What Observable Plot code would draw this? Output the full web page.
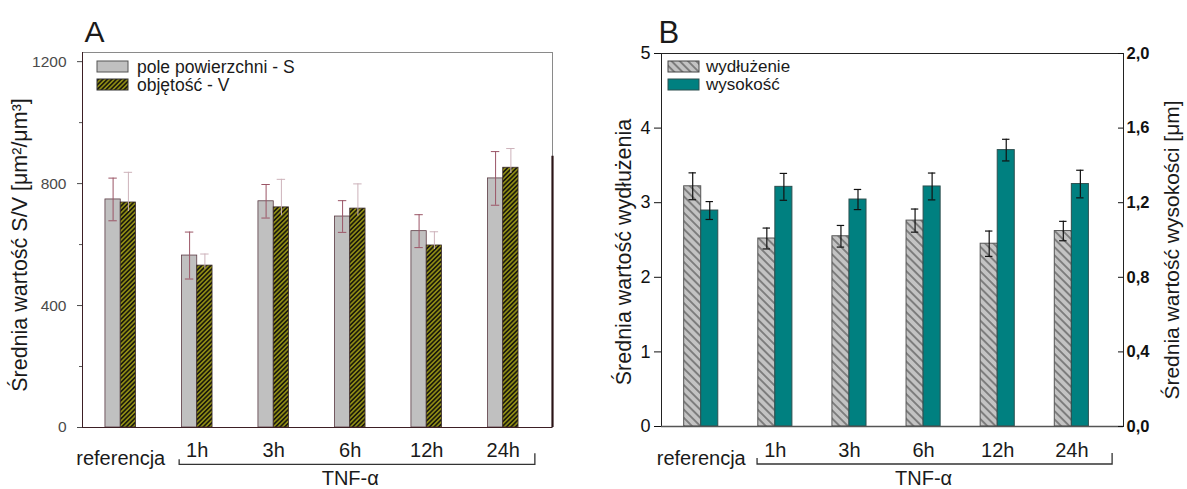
<!DOCTYPE html>
<html>
<head>
<meta charset="utf-8">
<script src="https://cdn.jsdelivr.net/npm/d3@7"></script>
<script src="https://cdn.jsdelivr.net/npm/@observablehq/plot@0.6"></script>
<style>
  body { margin: 0; background: #fff; }
  #wrap { position: relative; width: 1187px; height: 489px; overflow: hidden; background: #fff; }
  #wrap > svg { position: absolute; top: 0; }
</style>
</head>
<body>
<svg width="0" height="0" style="position:absolute">
  <defs>
    <pattern id="hatchV" patternUnits="userSpaceOnUse" width="3.2" height="3.2" patternTransform="rotate(45)">
      <rect width="3.2" height="3.2" fill="#8e8b14"/>
      <rect width="1.6" height="3.2" fill="#1c1b0c"/>
    </pattern>
    <pattern id="hatchE" patternUnits="userSpaceOnUse" width="5.8" height="5.8" patternTransform="rotate(-45)">
      <rect width="5.8" height="5.8" fill="#c3c3c3"/>
      <line x1="2.9" y1="0" x2="2.9" y2="5.8" stroke="#2a2a2a" stroke-width="0.9"/>
    </pattern>
  </defs>
</svg>
<div id="wrap"></div>
<script>
// ---------- data ----------
const categories = ["referencja", "1h", "3h", "6h", "12h", "24h"];
const groupLabel = "TNF-α";
// Panel A: S/V ratio [µm²/µm³]
const surfaceS    = [748, 564, 742, 692, 644, 817];
const surfaceSErr = [70, 77, 55, 52, 54, 88];
const volumeV     = [738, 531, 722, 718, 597, 852];
const volumeVErr  = [99, 38, 92, 81, 45, 63];
// Panel B: elongation (left axis) and height [µm] (right axis)
const elongation    = [3.22, 2.52, 2.55, 2.76, 2.45, 2.62];
const elongationErr = [0.18, 0.14, 0.145, 0.155, 0.17, 0.13];
const heightUm      = [1.158, 1.285, 1.217, 1.287, 1.482, 1.30];
const heightUmErr   = [0.048, 0.072, 0.054, 0.072, 0.058, 0.074];
// tick labels
const ticksA      = [0, 400, 800, 1200];
const minorTicksA = [200, 600, 1000];
const ticksBLeft  = [0, 1, 2, 3, 4, 5];
const ticksBRight = [0, 0.4, 0.8, 1.2, 1.6, 2.0];
// texts
const legendA = ["pole powierzchni - S", "objętość - V"];
const legendB = ["wydłużenie", "wysokość"];
const yLabelA = "Średnia wartość S/V [μm²/μm³]";
const yLabelB = "Średnia wartość wydłużenia";
const yLabelB2 = "Średnia wartość wysokości [μm]";

// ---------- setup ----------
const font = "Arial, 'Liberation Sans', Helvetica, sans-serif";
const wrap = document.getElementById("wrap");
const tnfIdx = categories.map((c, i) => i).slice(1);
const tnfCenter = (tnfIdx[0] + tnfIdx[tnfIdx.length - 1]) / 2;
const rightScale = 5 / 2; // left units per right unit
const ink = "#1a1a1a";

function addLegend(svg, items, x, y0, step, textDx, fontSize) {
  const g = d3.select(svg).append("g").attr("font-family", font).attr("font-size", fontSize).attr("text-anchor", "start");
  items.forEach((it, k) => {
    const y = y0 + k * step;
    g.append("rect").attr("x", x).attr("y", y).attr("width", 31).attr("height", 11)
      .attr("fill", it.fill).attr("stroke", it.stroke).attr("stroke-width", 1);
    g.append("text").attr("x", x + textDx).attr("y", y + 5.5).attr("dy", "0.35em")
      .attr("fill", ink).attr("text-anchor", "start").text(it.label);
  });
}
function addBracket(plot, x1v, x2v, yOff, hL, hR) {
  const sx = plot.scale("x").apply, sy = plot.scale("y").apply;
  const xa = sx(x1v), xb = sx(x2v), y = sy(0) + yOff;
  d3.select(plot).append("path")
    .attr("d", `M${xa},${y - hL}V${y}H${xb}V${y - hR}`)
    .attr("fill", "none").attr("stroke", "#333").attr("stroke-width", 1.3);
}

// ---------- Panel A ----------
const rowsA = categories.map((c, i) => ({i, c, S: surfaceS[i], Se: surfaceSErr[i], V: volumeV[i], Ve: volumeVErr[i]}));
const wA = 0.2, capA = 0.055;
const xDomA = [-0.5, 5.644];
const errS = "#9b5566", errV = "#cdb2ba";
const plotA = Plot.plot({
  width: 590, height: 489,
  marginLeft: 82, marginRight: 38, marginTop: 52, marginBottom: 62,
  style: {fontFamily: font, background: "transparent", overflow: "visible", color: ink},
  x: {domain: xDomA, axis: null},
  y: {domain: [0, 1230], axis: null},
  marks: [
    Plot.frame({stroke: "#8a8a8a"}),
    Plot.rect(rowsA, {x1: d => d.i - wA, x2: d => d.i, y1: 0, y2: "S", fill: "#c0c0c0", stroke: "#5b3b44", strokeWidth: 0.8}),
    Plot.ruleX(rowsA, {x: d => d.i - wA / 2, y1: d => d.S - d.Se, y2: d => d.S + d.Se, stroke: errS}),
    Plot.ruleY(rowsA, {y: d => d.S - d.Se, x1: d => d.i - wA / 2 - capA, x2: d => d.i - wA / 2 + capA, stroke: errS}),
    Plot.ruleY(rowsA, {y: d => d.S + d.Se, x1: d => d.i - wA / 2 - capA, x2: d => d.i - wA / 2 + capA, stroke: errS}),
    Plot.rect(rowsA, {x1: d => d.i, x2: d => d.i + wA, y1: 0, y2: "V", fill: "url(#hatchV)", stroke: "#3b2b2b", strokeWidth: 0.8}),
    Plot.ruleX(rowsA, {x: d => d.i + wA / 2, y1: d => d.V - d.Ve * 0.3, y2: d => d.V + d.Ve, stroke: errV}),
    Plot.ruleY(rowsA, {y: d => d.V + d.Ve, x1: d => d.i + wA / 2 - capA, x2: d => d.i + wA / 2 + capA, stroke: errV}),
    Plot.ruleX([xDomA[0]], {stroke: "#3d1f25"}),
    Plot.ruleX([xDomA[1]], {y1: 0, y2: 890, stroke: "#2a1416", strokeWidth: 2.2}),
    Plot.ruleY([0], {stroke: "#3d1f25"}),
    Plot.axisY(ticksA, {anchor: "left", tickSize: 5, tickPadding: 11, fontSize: 15.5, color: "#4a4a4a", label: null, tickFormat: d => String(d)}),
    Plot.axisY(minorTicksA, {anchor: "left", tickSize: 3, tickFormat: () => "", color: "#555", label: null}),
    Plot.text(rowsA.slice(1), {x: "i", text: "c", frameAnchor: "bottom", lineAnchor: "middle", dy: 23, fontSize: 20, fill: ink}),
    Plot.text(rowsA.slice(0, 1), {x: "i", text: "c", frameAnchor: "bottom", lineAnchor: "middle", dy: 31, fontSize: 20, fill: ink}),
    Plot.text([groupLabel], {x: () => tnfCenter, text: d => d, frameAnchor: "bottom", lineAnchor: "middle", dy: 51, fontSize: 20, fill: ink}),
    Plot.text([yLabelA], {text: d => d, frameAnchor: "left", textAnchor: "middle", lineAnchor: "middle", rotate: -90, dx: -62, dy: 5, fontSize: 21.5, fill: ink}),
    Plot.text(["A"], {text: d => d, frameAnchor: "top-left", dx: 2, dy: -32, fontSize: 30, fill: ink})
  ]
});
plotA.style.left = "0px";
wrap.appendChild(plotA);
addLegend(plotA, [
  {label: legendA[0], fill: "#c0c0c0", stroke: "#555"},
  {label: legendA[1], fill: "url(#hatchV)", stroke: "#333"}
], 97, 61, 18, 40, 17.5);
addBracket(plotA, 0.77, 5.42, 37.3, 5, 11);

// ---------- Panel B ----------
const rowsB = categories.map((c, i) => ({i, c, E: elongation[i], Ee: elongationErr[i], H: heightUm[i] * rightScale, He: heightUmErr[i] * rightScale}));
const wB = 0.23, capB = 0.05;
const xDomB = [-0.536, 5.697];
const frameWB = 597 - 71 - 64;
const plotB = Plot.plot({
  width: 597, height: 489,
  marginLeft: 71, marginRight: 64, marginTop: 53, marginBottom: 63,
  style: {fontFamily: font, background: "transparent", overflow: "visible", color: "#111"},
  x: {domain: xDomB, axis: null},
  y: {domain: [0, 5], axis: null},
  marks: [
    Plot.frame({stroke: "#222"}),
    Plot.rect(rowsB, {x1: d => d.i - wB, x2: d => d.i, y1: 0, y2: "E", fill: "url(#hatchE)", stroke: "#555", strokeWidth: 1}),
    Plot.rect(rowsB, {x1: d => d.i, x2: d => d.i + wB, y1: 0, y2: "H", fill: "#008080", stroke: "#2d4f4f", strokeWidth: 1}),
    Plot.ruleX(rowsB, {x: d => d.i - wB / 2, y1: d => d.E - d.Ee, y2: d => d.E + d.Ee, stroke: "#111", strokeWidth: 1.2}),
    Plot.ruleY(rowsB, {y: d => d.E - d.Ee, x1: d => d.i - wB / 2 - capB, x2: d => d.i - wB / 2 + capB, stroke: "#111", strokeWidth: 1.2}),
    Plot.ruleY(rowsB, {y: d => d.E + d.Ee, x1: d => d.i - wB / 2 - capB, x2: d => d.i - wB / 2 + capB, stroke: "#111", strokeWidth: 1.2}),
    Plot.ruleX(rowsB, {x: d => d.i + wB / 2, y1: d => d.H - d.He, y2: d => d.H + d.He, stroke: "#111", strokeWidth: 1.2}),
    Plot.ruleY(rowsB, {y: d => d.H - d.He, x1: d => d.i + wB / 2 - capB, x2: d => d.i + wB / 2 + capB, stroke: "#111", strokeWidth: 1.2}),
    Plot.ruleY(rowsB, {y: d => d.H + d.He, x1: d => d.i + wB / 2 - capB, x2: d => d.i + wB / 2 + capB, stroke: "#111", strokeWidth: 1.2}),
    Plot.ruleY([0], {stroke: "#555", strokeWidth: 1.6}),
    Plot.axisY(ticksBLeft, {anchor: "left", tickSize: 7, tickPadding: 4, fontSize: 18, color: "#111", label: null, tickFormat: d => String(d)}),
    Plot.axisY(ticksBRight.map(v => v * rightScale), {anchor: "right", tickSize: 0, tickPadding: 3, fontSize: 16.5, fontWeight: "bold", color: "#111", label: null,
      tickFormat: d => (d / rightScale).toFixed(1).replace(".", ",")}),
    Plot.axisY(ticksBRight.map(v => v * rightScale), {anchor: "left", tickSize: 5, dx: frameWB, tickFormat: () => "", color: "#111", label: null}),
    Plot.text(rowsB.slice(1), {x: "i", text: "c", frameAnchor: "bottom", lineAnchor: "middle", dy: 24, fontSize: 20, fill: ink}),
    Plot.text(rowsB.slice(0, 1), {x: "i", text: "c", frameAnchor: "bottom", lineAnchor: "middle", dy: 32, fontSize: 20, fill: ink}),
    Plot.text([groupLabel], {x: () => tnfCenter, text: d => d, frameAnchor: "bottom", lineAnchor: "middle", dy: 52, fontSize: 20, fill: ink}),
    Plot.text([yLabelB], {text: d => d, frameAnchor: "left", textAnchor: "middle", lineAnchor: "middle", rotate: -90, dx: -37, dy: 12, fontSize: 21.5, fill: ink}),
    Plot.text([yLabelB2], {text: d => d, frameAnchor: "right", textAnchor: "middle", lineAnchor: "middle", rotate: -90, dx: 49, dy: 10, fontSize: 21, fill: ink}),
    Plot.text(["B"], {text: d => d, frameAnchor: "top-left", dx: -3, dy: -33, fontSize: 31, fill: ink})
  ]
});
plotB.style.left = "590px";
wrap.appendChild(plotB);
addLegend(plotB, [
  {label: legendB[0], fill: "url(#hatchE)", stroke: "#444"},
  {label: legendB[1], fill: "#008080", stroke: "#2d4f4f"}
], 78, 61, 18, 38, 17);
addBracket(plotB, 0.76, 5.55, 38, 6, 11);
</script>
</body>
</html>
